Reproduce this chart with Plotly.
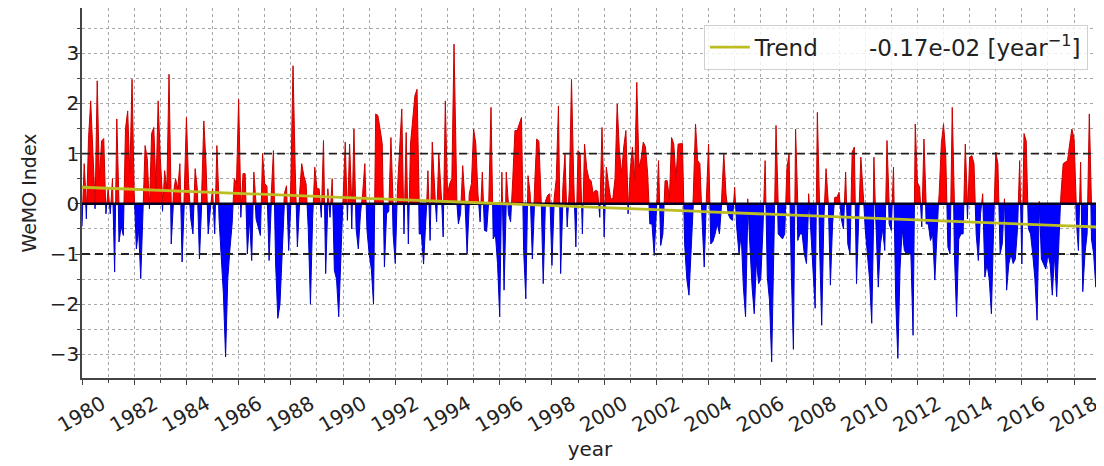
import numpy as np
import plotly.graph_objects as go

# Monthly WeMO index values (Jan 1980 - Dec 2018)
start_year = 1980
wemo_1980s = [
    -0.45, 0.8, -0.3, 1.3, 2.05, 0.9, -0.1, 2.45, 0.5, 1.25, 1.3, -0.2,
    0.3, -0.2, 0.5, -1.36, 1.69, -0.76, -0.45, -0.63, 1.5, 1.85, 0.6, 2.48,
    0.2, -0.9, -0.5, -1.49, -0.2, 1.16, 0.9, -0.1, 1.4, 1.52, 0.3, 2.05,
    0.9, -0.15, 0.66, 0.3, 2.58, -0.8, 0.2, 0.5, 0.3, 0.8, -1.16, 0.2,
    1.72, 0.4, -0.3, -0.6, 0.7, 0.3, -1.1, 0.2, 1.65, 0.8, -0.6, -0.1,
    0.3, -0.6, 1.16, -0.3, -1.0, -1.8, -3.05, -1.5, -0.9, -0.4, 0.5, 0.4,
    2.08, -0.27, 0.6, 0.6, -1.0, -0.3, -1.13, 0.63, -0.3, -0.46, -0.63, 1.0,
    0.4, 0.35, -1.13, 0.2, 1.06, -1.2, -2.28, -2.0, -0.9, 0.2, 0.36, -0.93,
    0.46, 2.75, 0.7, -0.86, 0.2, 0.8, 0.55, 0.4, -0.5, -2.0, -0.3, 0.73,
    0.3, 0.3, -0.27, 1.26, -1.39, 0.3, -0.27, 0.5, -1.33, -1.5, -2.25, -0.8,
]
wemo_1990s = [
    0.1, 1.23, -0.33, 1.19, -0.5, 1.49, -0.5, -0.9, -0.2, 0.2, 0.8, -0.53,
    -1.0, -1.3, -2.0, 1.79, 1.76, 1.49, 1.2, -1.26, -0.2, -0.15, 1.32, -0.6,
    -1.19, 0.3, 1.0, 1.89, -0.6, 1.42, -0.8, 1.19, 1.66, 2.15, 2.28, -0.6,
    -0.6, -1.2, -0.5, 0.66, -0.73, 1.23, 0.3, -0.36, 1.0, 0.4, -0.66, 2.05,
    0.2, 0.4, 0.5, 3.18, 0.2, -0.4, -0.2, 0.76, 0.1, -1.0, 0.2, 0.4,
    1.49, 1.2, 0.2, -0.36, 0.63, -0.53, -0.55, 0.1, 1.92, -0.7, -0.6, -1.19,
    -2.25, 0.63, -1.72, 0.63, -0.2, -0.36, 0.5, 1.46, 1.46, 1.59, 1.72, -0.93,
    -1.89, 0.56, 0.2, -1.1, 0.3, 1.29, 1.25, 0.2, -1.59, 0.05, 0.17, 0.2,
    -1.23, 0.1, 0.5, 1.95, -1.39, 0.3, 1.0, -0.46, 0.3, 2.48, 0.5, -0.86,
    1.06, 1.0, -0.6, 1.19, 0.7, 0.5, 0.46, 0.2, 0.27, 0.25, -0.27, 1.52,
]
wemo_2000s = [
    -0.66, 0.73, 0.4, 0.1, 0.1, 0.5, 1.99, 1.06, 0.6, 1.13, 1.46, -0.2,
    0.66, 1.13, 0.5, 2.42, 0.73, 0.9, 1.23, 1.13, 0.6, -0.4, -0.4, -1.03,
    -0.2, 0.86, -0.83, -0.6, 0.46, 0.46, 0.1, 1.32, 1.19, 0.5, 1.19, 1.19,
    1.2, -0.8, -1.5, -1.82, -0.86, 0.2, 1.59, 0.86, 0.8, -0.3, -1.26, 0.1,
    1.19, -0.8, -0.75, -0.6, -0.4, -0.6, 0.1, 1.0, 0.2, -0.2, -0.3, -0.33,
    0.33, -0.5, -1.0, -0.6, -1.66, -2.25, 0.1, -0.83, -1.66, -2.19, -1.13, -1.59,
    -1.5, -0.5, 0.86, -1.46, -1.92, -3.15, -1.0, 1.56, -0.6, -0.65, -0.7, -0.6,
    0.7, 1.0, -1.3, -2.9, 1.49, -0.73, -0.6, -0.6, -1.0, -1.19, 0.2, -0.5,
    -1.3, -2.08, 1.82, -0.8, -2.42, -0.3, 0.7, 0.1, -1.62, -0.4, 0.13, 0.13,
    0.23, -0.3, -0.5, 0.63, -0.8, -1.0, 1.03, 1.13, -1.59, -0.3, 0.93, 0.3,
]
wemo_2010s = [
    -0.5, -1.0, -1.5, -2.38, 0.93, -0.6, -1.66, -0.8, -0.5, -0.93, 1.26, -0.4,
    -0.53, 0.73, -1.9, -3.08, -1.3, -0.5, -0.93, -1.0, -1.0, -1.0, -2.62, 1.59,
    0.43, 0.33, -0.46, 1.29, -0.4, -0.4, -0.73, -0.6, -1.52, -0.4, 0.2, 1.2,
    1.59, 1.0, -0.86, -1.0, 1.92, -1.0, -2.25, -0.7, -0.6, -0.6, 1.19, -0.3,
    0.93, 0.96, 0.8, -0.6, -1.13, -0.2, 0.2, -1.46, -1.2, -1.5, -2.19, -0.5,
    1.03, 0.8, -1.0, -0.8, 0.1, -1.72, -1.2, -1.0, -1.19, -1.1, -0.5, 0.86,
    -1.2, 1.4, 1.25, -0.5, -0.6, -1.0, -1.5, -2.32, 0.05, -1.1, -1.2, -1.3,
    -1.0, -1.2, -1.82, -1.0, -1.85, -0.6, 0.2, 0.8, 0.83, 0.86, 1.2, 1.49,
    1.3, -0.3, -0.93, 0.83, -1.75, -1.0, -0.6, 1.79, -0.7, -1.0, -1.66, -0.7,
]
trend_intercept = 0.33          # trend value at Jan 1980
trend_slope = -0.17e-02         # per time step (month)
trend_label = "Trend" + "\u00a0" * 7 + "-0.17e-02 [year<sup>\u22121</sup>]"
x_ticks = list(range(1980, 2019, 2))
y_ticks = [-3, -2, -1, 0, 1, 2, 3]

values = np.array(wemo_1980s + wemo_1990s + wemo_2000s + wemo_2010s, dtype=float)
n = len(values)
t = start_year + np.arange(n) / 12.0

# insert zero crossings so positive / negative fills meet at zero
xs, ys = [t[0]], [values[0]]
for i in range(1, n):
    y0, y1 = values[i - 1], values[i]
    if y0 * y1 < 0:
        xc = t[i - 1] + (t[i] - t[i - 1]) * y0 / (y0 - y1)
        xs.append(xc)
        ys.append(0.0)
    xs.append(t[i])
    ys.append(y1)
xs = np.array(xs)
ys = np.array(ys)
pos = np.where(ys > 0, ys, 0.0)
neg = np.where(ys < 0, ys, 0.0)

trend = trend_intercept + trend_slope * np.arange(n)

fig = go.Figure()
fig.add_trace(go.Scatter(x=xs, y=pos, mode="lines", fill="tozeroy",
                         fillcolor="#ff0000", line=dict(color="#c80000", width=1),
                         showlegend=False, hoverinfo="skip"))
fig.add_trace(go.Scatter(x=xs, y=neg, mode="lines", fill="tozeroy",
                         fillcolor="#0000ff", line=dict(color="#0000c8", width=1),
                         showlegend=False, hoverinfo="skip"))
fig.add_trace(go.Scatter(x=[t[0], t[-1]], y=[0, 0], mode="lines",
                         line=dict(color="#000022", width=2.4),
                         showlegend=False, hoverinfo="skip"))
for lvl in (1, -1):
    fig.add_trace(go.Scatter(x=[t[0], t[-1]], y=[lvl, lvl], mode="lines",
                             line=dict(color="#222222", width=1.8, dash="8px,5px"),
                             showlegend=False, hoverinfo="skip"))
fig.add_trace(go.Scatter(x=t, y=trend, mode="lines", name=trend_label,
                         line=dict(color="#bcbd22", width=2.8)))

grid_kw = dict(gridcolor="#a8a8a8", griddash="dot", gridwidth=1)
# page body adds an 8px offset; margins below compensate for it
fig.update_layout(
    width=1096, height=458,
    margin=dict(l=74, r=6, t=0, b=88),
    paper_bgcolor="white", plot_bgcolor="white",
    font=dict(family="DejaVu Sans", size=20, color="#222222"),
    legend=dict(x=0.99, y=0.955, xanchor="right", yanchor="top",
                bgcolor="rgba(255,255,255,0.8)", bordercolor="#d0d0d0",
                borderwidth=1, font=dict(size=23, family="DejaVu Sans"),
                itemwidth=40),
    xaxis=dict(range=[t[0], t[-1]], tickmode="array", tickvals=x_ticks,
               ticktext=[str(v) for v in x_ticks], tickangle=-30,
               tickfont=dict(size=20), automargin=False, ticklabelshift=20,
               showline=True, mirror=True, linecolor="#444444", linewidth=1.5,
               ticks="outside", ticklen=5, tickcolor="#444444",
               showgrid=True, **grid_kw, zeroline=False,
               minor=dict(dtick=1, tick0=1980, showgrid=True, ticks="outside",
                          ticklen=3, tickcolor="#444444", **grid_kw),
               title=dict(text="year", standoff=6, font=dict(size=20))),
    yaxis=dict(range=[-3.47, 3.9], tickmode="array", tickvals=y_ticks,
               tickfont=dict(size=20), automargin=False, ticklabelstandoff=-8,
               showline=True, mirror=True, linecolor="#444444", linewidth=1.5,
               ticks="outside", ticklen=5, tickcolor="#444444",
               showgrid=True, **grid_kw, zeroline=False,
               minor=dict(dtick=0.5, tick0=0, showgrid=True, ticks="outside",
                          ticklen=3, tickcolor="#444444", **grid_kw),
               title=dict(text="WeMO Index", standoff=8, font=dict(size=19))),
)

fig.write_html("out.html")
